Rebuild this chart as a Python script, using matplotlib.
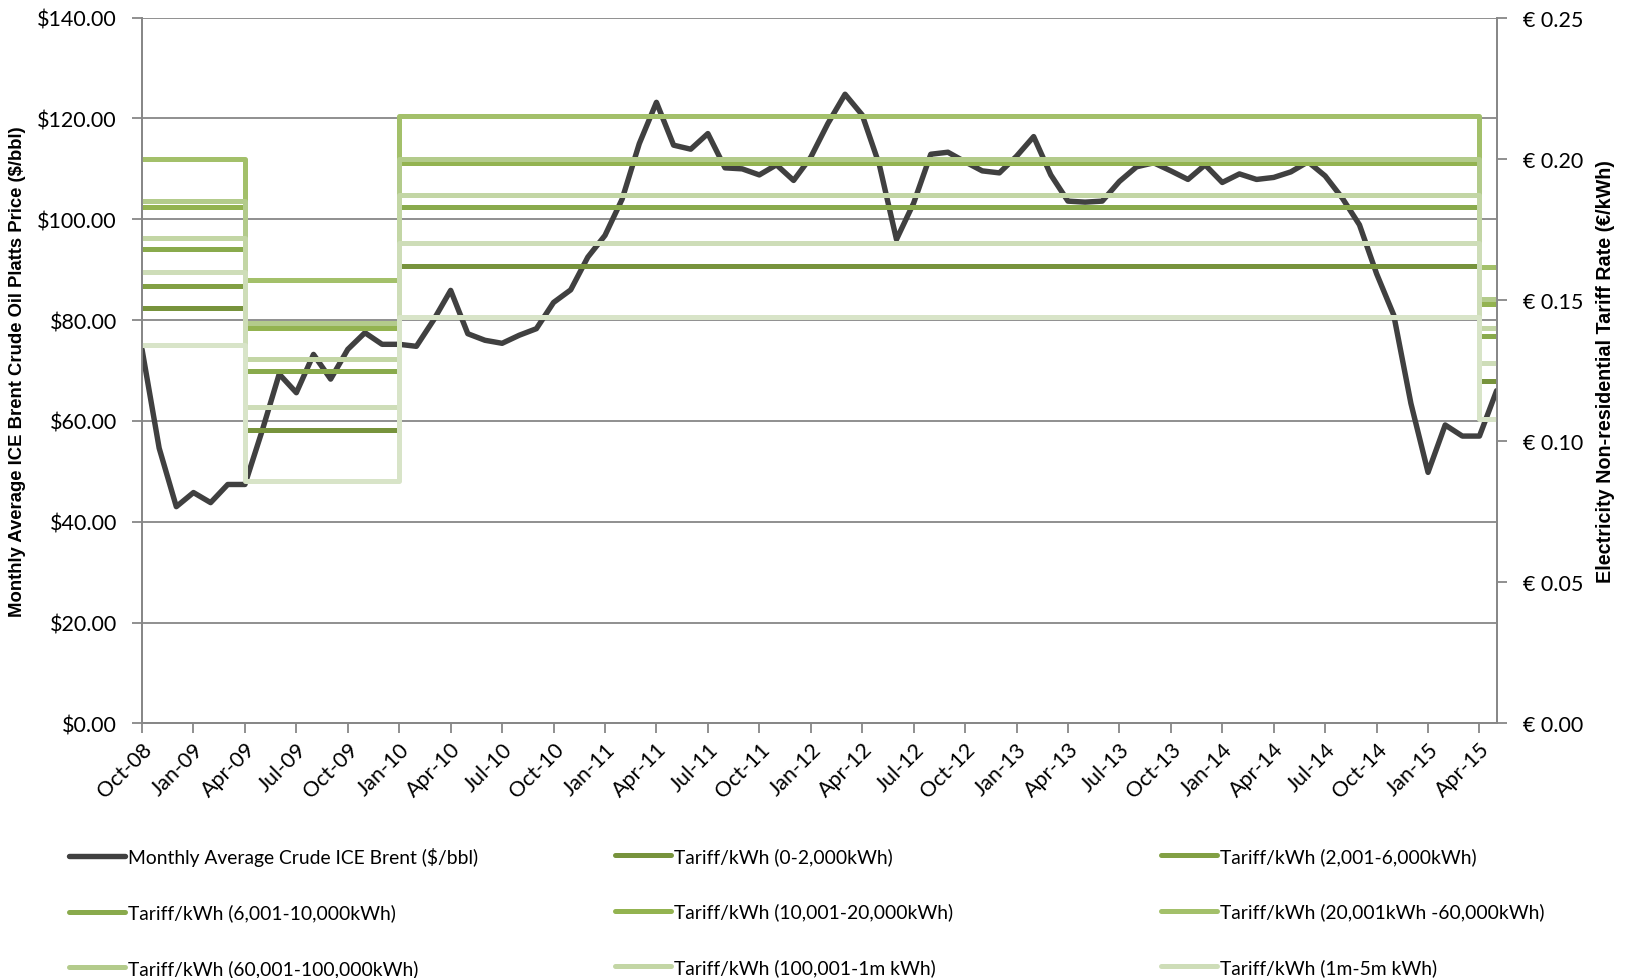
import matplotlib
matplotlib.use('Agg')
import matplotlib.pyplot as plt
import pandas as pd

plt.rcParams['font.family'] = ['Lato', 'DejaVu Sans']

# Months on the category axis (Oct-08 .. May-15)
months = pd.date_range('2008-10-01', periods=80, freq='MS').strftime('%b-%y').tolist()

# Monthly average ICE Brent crude ($/bbl)
brent = [74.2, 54.6, 43.0, 45.8, 43.8, 47.4, 47.4, 58.0, 69.3, 65.6, 73.2, 68.3, 74.2, 77.5, 75.2,
         75.2, 74.8, 80.0, 85.9, 77.3, 76.0, 75.4, 77.0, 78.3, 83.5, 86.0, 92.5,
         96.8, 104.0, 115.0, 123.2, 114.7, 113.9, 117.0, 110.2, 110.0, 108.8, 110.8, 107.7,
         112.3, 119.0, 124.8, 120.7, 110.8, 96.0, 103.2, 112.9, 113.3, 111.4, 109.6, 109.2,
         112.5, 116.4, 108.8, 103.6, 103.4, 103.6, 107.5, 110.4, 111.2, 109.6, 107.9, 110.8,
         107.3, 109.0, 107.9, 108.3, 109.4, 111.4, 108.6, 104.2, 98.9, 89.2, 81.0, 63.5,
         49.8, 59.2, 57.0, 57.0, 66.0]

# Tariff periods start at these months, last entry is the axis end
tariff_starts = ['Oct-08', 'Apr-09', 'Jan-10', 'Apr-15', 'May-15']

tariff_labels = [
    'Tariff/kWh (0-2,000kWh)',
    'Tariff/kWh (2,001-6,000kWh)',
    'Tariff/kWh (6,001-10,000kWh)',
    'Tariff/kWh (10,001-20,000kWh)',
    'Tariff/kWh (20,001kWh -60,000kWh)',
    'Tariff/kWh (60,001-100,000kWh)',
    'Tariff/kWh (100,001-1m kWh)',
    'Tariff/kWh (1m-5m kWh)',
    '_nolegend_',  # its legend entry falls outside the picture
]
# EUR/kWh for each period (Oct-08, Apr-09, Jan-10, Apr-15)
tariff_values = [
    [0.147, 0.104, 0.162, 0.1213],
    [0.155, 0.125, 0.183, 0.1373],
    [0.168, 0.125, 0.183, 0.1373],
    [0.183, 0.140, 0.1985, 0.1485],
    [0.200, 0.157, 0.215, 0.1615],
    [0.185, 0.142, 0.200, 0.1503],
    [0.172, 0.129, 0.187, 0.1402],
    [0.160, 0.112, 0.170, 0.1276],
    [0.134, 0.086, 0.144, 0.108],
]
tariff_colors = ['#77933C', '#82A044', '#89AA4C', '#93B350', '#A3C06A',
                 '#B3CB8B', '#C3D6A5', '#CEDDB8', '#D8E4C8']
oil_color = '#404040'
grid_color = '#878787'
label_font = ['Liberation Sans', 'DejaVu Sans']

fig = plt.figure(figsize=(16.25, 9.79), dpi=100)
ax1 = fig.add_axes([0.0874, 0.260, 0.8336, 0.721])
ax2 = ax1.twinx()

x = list(range(len(months)))
oil_line, = ax1.plot(x, brent, color=oil_color, lw=3.9, solid_joinstyle='round',
                     solid_capstyle='round', label='Monthly Average Crude ICE Brent ($/bbl)', zorder=3)

step_x = [months.index(m) for m in tariff_starts]
tariff_lines = []
for vals, col, lab in zip(tariff_values, tariff_colors, tariff_labels):
    ln, = ax2.step(step_x, vals + [vals[-1]], where='post', color=col, lw=3.6,
                   solid_joinstyle='round', solid_capstyle='round', label=lab)
    tariff_lines.append(ln)

# primary axis
ax1.set_xlim(0, len(months) - 1)
ax1.set_ylim(0, 140)
ax1.set_yticks(range(0, 141, 20))
ax1.set_yticklabels([f'${v:.2f}' for v in range(0, 141, 20)])
ax1.yaxis.grid(True, color=grid_color, lw=1.3)
ax1.set_axisbelow(True)
ax1.set_xticks(x[::3])
ax1.set_xticklabels(months[::3], rotation=45, ha='right', rotation_mode='anchor')
ax1.tick_params(axis='both', labelsize=15.5, color=grid_color, width=1.3, length=7)
ax1.tick_params(axis='y', pad=11)
ax1.tick_params(axis='x', pad=4)
ax1.set_ylabel('Monthly Average ICE Brent Crude Oil Platts Price ($/bbl)',
               fontsize=13.3, fontweight='bold', family=label_font, labelpad=8)

# secondary axis
ax2.set_ylim(0, 0.25)
ax2.set_yticks([0, 0.05, 0.10, 0.15, 0.20, 0.25])
ax2.set_yticklabels([f'€ {v:.2f}' for v in [0, 0.05, 0.10, 0.15, 0.20, 0.25]])
ax2.tick_params(axis='y', labelsize=15.5, color=grid_color, width=1.3, length=7, pad=12)
ax2.set_ylabel('Electricity Non-residential Tariff Rate (€/kWh)',
               fontsize=14.2, fontweight='bold', family=label_font, labelpad=9)

for ax in (ax1, ax2):
    for side in ('left', 'right', 'bottom'):
        ax.spines[side].set_color(grid_color)
        ax.spines[side].set_linewidth(1.3)
    ax.spines['top'].set_visible(False)

# legend: three columns filled row by row
handles = [oil_line] + tariff_lines[:8]
labels = [h.get_label() for h in handles]
col_x = [0.0425, 0.3785, 0.7145]
for c in range(3):
    fig.legend(handles[c::3], labels[c::3], loc='upper left', bbox_to_anchor=(col_x[c], 0.134),
               frameon=False, fontsize=13.9, handlelength=2.9, handletextpad=0.15,
               labelspacing=1.95, borderpad=0, borderaxespad=0)

fig.savefig('out.png', dpi=100)
